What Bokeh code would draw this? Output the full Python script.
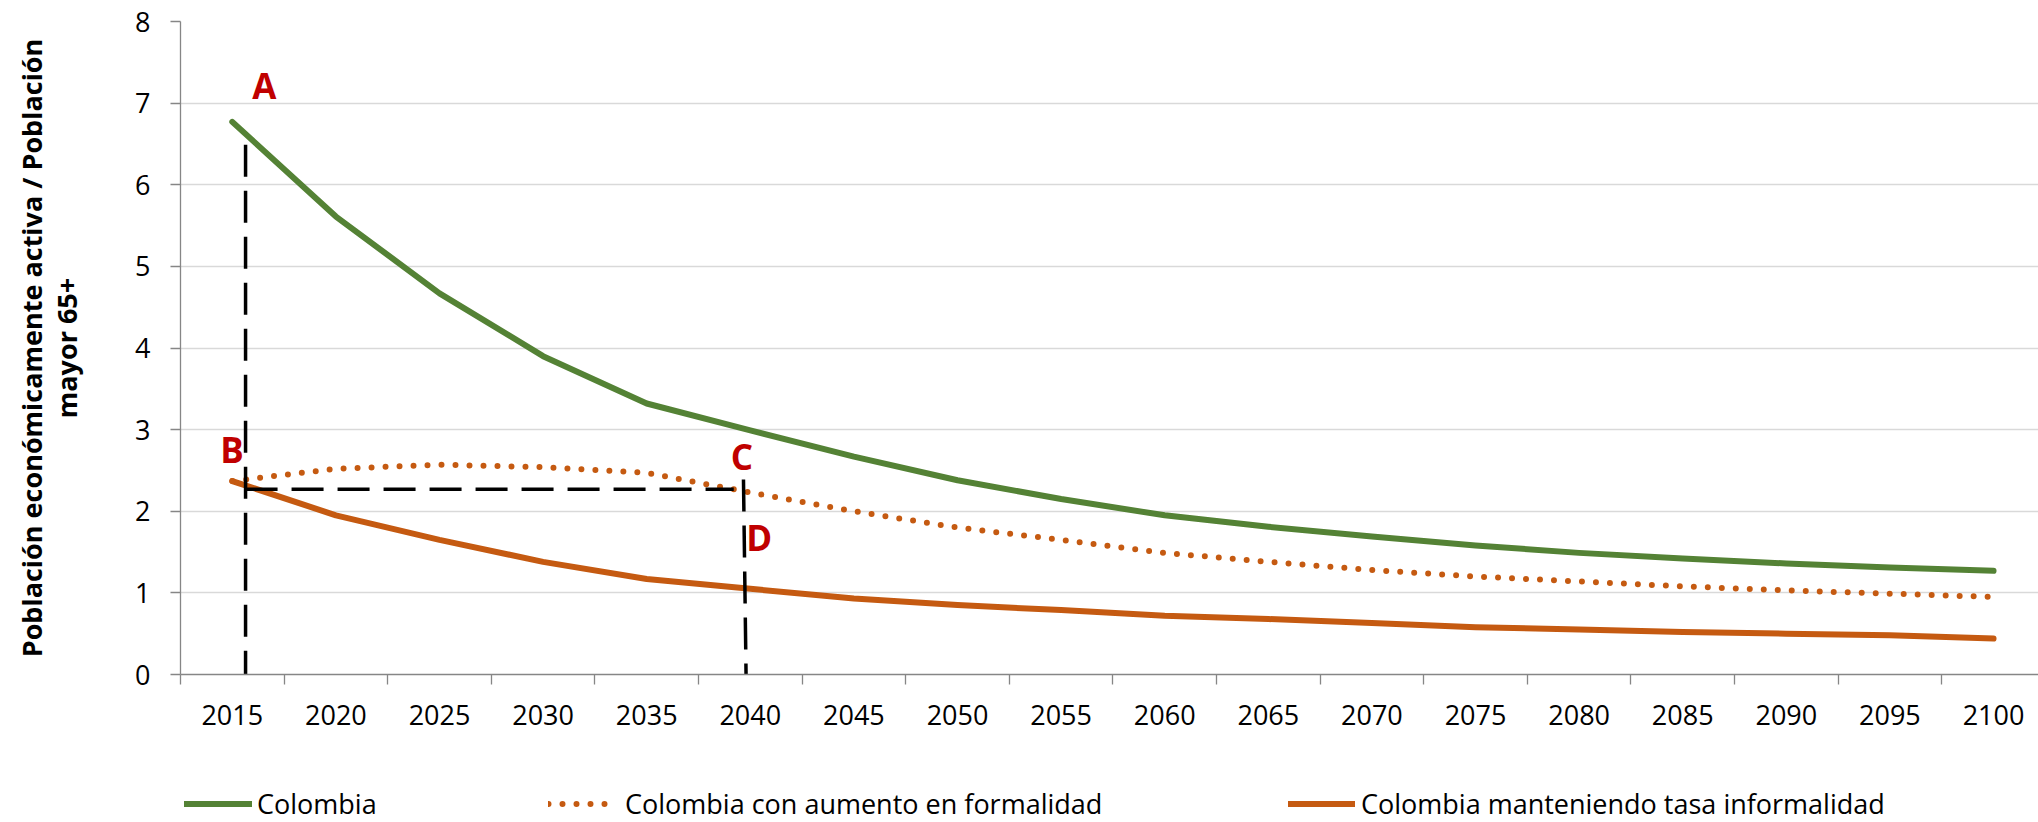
from bokeh.plotting import figure
from bokeh.layouts import column
from bokeh.models import Range1d, FixedTicker, Legend, LegendItem, ColumnDataSource
from bokeh.core.properties import value
from bokeh.embed import file_html
from bokeh.resources import INLINE

# ---- data ----
years = [2015, 2020, 2025, 2030, 2035, 2040, 2045, 2050, 2055, 2060,
         2065, 2070, 2075, 2080, 2085, 2090, 2095, 2100]
year_labels = [str(y) for y in years]
colombia = [6.77, 5.61, 4.67, 3.90, 3.32, 2.99, 2.67, 2.38, 2.15, 1.95,
            1.81, 1.69, 1.58, 1.49, 1.42, 1.36, 1.31, 1.27]
formalidad = [2.37, 2.52, 2.57, 2.54, 2.47, 2.23, 2.00, 1.80, 1.65, 1.49,
              1.38, 1.28, 1.20, 1.14, 1.08, 1.03, 0.99, 0.95]
informalidad = [2.37, 1.95, 1.65, 1.38, 1.17, 1.05, 0.93, 0.85, 0.79, 0.72,
                0.68, 0.63, 0.58, 0.55, 0.52, 0.50, 0.48, 0.44]
series_names = ["Colombia", "Colombia con aumento en formalidad",
                "Colombia manteniendo tasa informalidad"]
y_ticks = [0, 1, 2, 3, 4, 5, 6, 7, 8]
y_title = "Población económicamente activa / Población\nmayor 65+"

# annotation guides (dashed) and letters
guide_xs = [[2015.64, 2015.64], [2015.64, 2039.2], [2039.67, 2039.8]]
guide_ys = [[6.49, -0.1], [2.27, 2.27], [2.39, -0.1]]
letters = ["A", "B", "C", "D"]
letter_x = [2016.55, 2014.99, 2039.6, 2040.43]
letter_y = [7.21, 2.76, 2.67, 1.68]

GREEN = "#548235"
ORANGE = "#C55A11"
RED = "#C00000"
GRAY = "#868686"
FONT = "Open Sans"

p = figure(width=2038, height=735, output_backend="svg", toolbar_location=None,
           x_range=Range1d(2012.5, 2102.17), y_range=Range1d(0, 8),
           min_border_left=180, min_border_right=0, min_border_top=21,
           min_border_bottom=61)
p.outline_line_color = None

# axes
xa = p.xaxis[0]
xa.ticker = FixedTicker(ticks=years, minor_ticks=[y - 2.5 for y in years] + [2102.5])
xa.major_label_overrides = {y: l for y, l in zip(years, year_labels)}
xa.major_tick_out = 0
xa.major_tick_in = 0
xa.minor_tick_out = 10
xa.minor_tick_in = 0
xa.minor_tick_line_color = GRAY
xa.minor_tick_line_width = 1.3
xa.axis_line_color = GRAY
xa.axis_line_width = 1.3
xa.major_label_text_font = FONT
xa.major_label_text_font_size = "27px"
xa.major_label_text_color = "black"
xa.major_label_standoff = 20

ya = p.yaxis[0]
ya.ticker = FixedTicker(ticks=y_ticks, minor_ticks=[])
ya.major_tick_out = 10
ya.major_tick_in = 0
ya.major_tick_line_color = GRAY
ya.major_tick_line_width = 1.3
ya.axis_line_color = GRAY
ya.axis_line_width = 1.3
ya.major_label_text_font = FONT
ya.major_label_text_font_size = "27px"
ya.major_label_text_color = "black"
ya.major_label_standoff = 20
ya.axis_label = y_title
ya.axis_label_text_font = FONT
ya.axis_label_text_font_size = "27px"
ya.axis_label_text_font_style = "bold"
ya.axis_label_text_color = "black"
ya.axis_label_text_line_height = 0.95
ya.axis_label_text_align = "center"
ya.axis_label_standoff = 47

p.xgrid.grid_line_color = None
p.ygrid.grid_line_color = "#D9D9D9"
p.ygrid.grid_line_width = 1.3

# series
src = ColumnDataSource(dict(x=years, c=colombia, f=formalidad, i=informalidad))
line_styles = [
    dict(line_color=GREEN, line_width=6, line_cap="round", line_join="round"),
    dict(line_color=ORANGE, line_width=6, line_dash="0 14", line_cap="round", line_join="round"),
    dict(line_color=ORANGE, line_width=6, line_cap="round", line_join="round"),
]
p.line("x", "i", source=src, **line_styles[2])
p.line("x", "f", source=src, **line_styles[1])
p.line("x", "c", source=src, **line_styles[0])

# guides
p.multi_line(xs=guide_xs, ys=guide_ys, line_color="black", line_width=3.5,
             line_dash="32 14")

# letters
p.text(x=letter_x, y=letter_y, text=letters, text_color=RED,
       text_font=value(FONT), text_font_style="bold", text_font_size="35px",
       text_align="center", text_baseline="middle")

# ---- legend strip (separate figure so the legend is not clipped) ----
H2 = 87
leg = figure(width=2038, height=H2, output_backend="svg", toolbar_location=None,
             x_range=Range1d(0, 1858), y_range=Range1d(0, H2),
             min_border_left=180, min_border_right=0, min_border_top=0,
             min_border_bottom=0, x_axis_type=None, y_axis_type=None)
leg.outline_line_color = None
leg.xgrid.grid_line_color = None
leg.ygrid.grid_line_color = None

# legend offsets measured from the plot frame's left edge
legend_x = [4, 368, 1108]
legend_gw = [68, 64, 67]
legend_standoff = [5, 13, 6]
for name, style, lx, gw, so in zip(series_names, line_styles, legend_x,
                                    legend_gw, legend_standoff):
    r = leg.line(x=[-1000, -999], y=[-1000, -1000], **style)
    lg = Legend(items=[LegendItem(label=name, renderers=[r])],
                location=(lx, 0), orientation="horizontal",
                glyph_width=gw, glyph_height=37, label_height=37,
                label_standoff=so, padding=0, margin=0, spacing=0,
                border_line_color=None, background_fill_alpha=0,
                label_text_font=FONT, label_text_font_size="27px",
                label_text_color="black")
    leg.add_layout(lg, "center")

layout = column(p, leg, spacing=0)
open("out.html", "w").write(file_html(layout, INLINE))
